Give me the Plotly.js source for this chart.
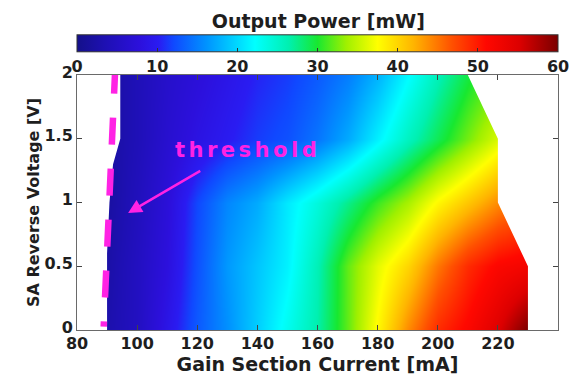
<!DOCTYPE html>
<html>
<head>
<meta charset="utf-8">
<script src="https://cdn.plot.ly/plotly-3.0.1.min.js"></script>
<style>
  html, body { margin: 0; padding: 0; background: #fff; }
  #chart { width: 571px; height: 375px; }
  text.annotation-text { letter-spacing: 3.5px; }
</style>
</head>
<body>
<div id="chart"></div>
<script>
// Gain section current [mA] (grid columns)
const currents = [90, 100, 110, 120, 130, 140, 150, 160, 170, 180, 190, 200, 210, 220, 230];
// SA reverse voltage [V] (grid rows)
const voltages = [0, 0.5, 1, 1.5, 2];
// Output power [mW], one row per voltage
const power_V0   = [3, 5, 9, 13, 16, 19.5, 23, 26.5, 32, 38, 44, 49, 51.5, 55, 60];
const power_V0_5 = [2.5, 5, 8, 12.5, 16.5, 19, 21.5, 26, 32, 36.5, 40, 45, 49, 51.5, 52.5];
const power_V1   = [2, 4.5, 7.5, 12, 15.5, 17.5, 21, 24, 27.5, 31, 34, 38, 41, 44, 46];
const power_V1_5 = [2, 4, 6.5, 8.5, 10, 11.5, 12.5, 14.5, 17.5, 21.5, 25.5, 29, 32.5, 36, 38];
const power_V2   = [2, 4, 6, 7.5, 9, 10.5, 11.5, 13, 15, 18, 22, 26, 29.5, 32, 34];

// measured-region limits (current range covered at each voltage)
const leftEdgeV  = [0, 0.6, 1.0, 1.3, 1.5, 2];
const leftEdgeI  = [90, 90, 90.8, 92, 94.4, 94.4];
const rightEdgeV = [0, 0.5, 1.0, 1.5, 2];
const rightEdgeI = [230, 230, 220, 220, 210];

// threshold line
const thresholdI = [92.74, 88.88];
const thresholdV = [2.065, 0.026];

// axis ticks
const xTicks = [80, 100, 120, 140, 160, 180, 200, 220, 240];
const yTicks = [0, 0.5, 1, 1.5, 2];
const yTickText = ['0', '0.5', '1', '1.5', '2'];
const cbTicks = [0, 10, 20, 30, 40, 50, 60];

const FONT = 'DejaVu Sans';
const TXT = '#1e1e1e';
const MAG = '#ff22e4';

const jet = [
  [0.00, '#14108a'],
  [0.06, '#1e10b4'],
  [0.13, '#2c10dc'],
  [0.17, '#2a1cf2'],
  [0.20, '#1048ff'],
  [0.27, '#0094ff'],
  [0.37, '#00ffff'],
  [0.44, '#00f0b0'],
  [0.50, '#18e830'],
  [0.56, '#a0f000'],
  [0.625, '#ffff00'],
  [0.70, '#ffb400'],
  [0.78, '#ff5000'],
  [0.85, '#ff0800'],
  [0.92, '#dc0000'],
  [1.00, '#7a0000']
];

const zGrid = [power_V0, power_V0_5, power_V1, power_V1_5, power_V2];

const heat = {
  type: 'heatmap',
  x: currents,
  y: voltages,
  z: zGrid,
  zmin: 0, zmax: 60,
  zsmooth: 'best',
  colorscale: jet,
  hoverinfo: 'skip',
  colorbar: {
    orientation: 'h',
    x: 0.5, xanchor: 'center',
    y: 0.977, yanchor: 'bottom',
    len: 1, lenmode: 'fraction',
    thickness: 17, thicknessmode: 'pixels',
    xpad: 0, ypad: 0,
    outlinewidth: 1, outlinecolor: '#333',
    ticks: 'inside', ticklen: 4, tickcolor: '#333', tickwidth: 1,
    tickvals: cbTicks,
    tickfont: {family: FONT, size: 16, color: TXT, weight: 'bold'}
  }
};

const leftMask = {
  type: 'scatter', mode: 'lines', fill: 'toself',
  x: [70, leftEdgeI[0]].concat(leftEdgeI).concat([leftEdgeI[leftEdgeI.length - 1], 70]),
  y: [-0.1, -0.1].concat(leftEdgeV).concat([2.1, 2.1]),
  fillcolor: '#ffffff', line: {width: 0, color: '#ffffff'},
  hoverinfo: 'skip', showlegend: false
};
const rightMask = {
  type: 'scatter', mode: 'lines', fill: 'toself',
  x: [250, rightEdgeI[0]].concat(rightEdgeI).concat([rightEdgeI[rightEdgeI.length - 1], 250]),
  y: [-0.1, -0.1].concat(rightEdgeV).concat([2.1, 2.1]),
  fillcolor: '#ffffff', line: {width: 0, color: '#ffffff'},
  hoverinfo: 'skip', showlegend: false
};

const threshold = {
  type: 'scatter', mode: 'lines',
  x: thresholdI, y: thresholdV,
  line: {color: MAG, width: 6.5, dash: '27px,24px'},
  cliponaxis: false,
  hoverinfo: 'skip', showlegend: false
};

const layout = {
  width: 571, height: 375,
  margin: {l: 77, r: 13, t: 75, b: 45, autoexpand: false},
  paper_bgcolor: '#ffffff', plot_bgcolor: '#ffffff',
  font: {family: FONT, size: 16, color: TXT, weight: 'bold'},
  showlegend: false,
  xaxis: {
    range: [80, 240], tickvals: xTicks, ticktext: xTicks.map(String),
    showgrid: false, zeroline: false,
    showline: true, mirror: 'ticks', linecolor: '#6a6a6a', linewidth: 1,
    ticks: 'inside', ticklen: 5, tickcolor: '#444', ticklabelstandoff: -1,
    tickfont: {family: FONT, size: 16, color: TXT, weight: 'bold'},
    title: {text: 'Gain Section Current [mA]', standoff: 0,
            font: {family: FONT, size: 19, color: TXT, weight: 'bold'}}
  },
  yaxis: {
    range: [0, 2], tickvals: yTicks, ticktext: yTickText,
    showgrid: false, zeroline: false,
    showline: true, mirror: 'ticks', linecolor: '#6a6a6a', linewidth: 1,
    ticks: 'inside', ticklen: 5, tickcolor: '#444', ticklabelshift: -3,
    tickfont: {family: FONT, size: 16, color: TXT, weight: 'bold'},
    title: {text: 'SA Reverse Voltage [V]', standoff: 0,
            font: {family: FONT, size: 16, color: TXT, weight: 'bold'}}
  },
  annotations: [
    {
      x: 0.503, y: 1.212, xref: 'paper', yref: 'paper',
      xanchor: 'center', yanchor: 'middle',
      text: 'Output Power [mW]', showarrow: false,
      font: {family: FONT, size: 19, color: TXT, weight: 'bold'}
    },
    {
      x: 136.6, y: 1.41, xref: 'x', yref: 'y',
      text: 'threshold', showarrow: false,
      font: {family: FONT, size: 21, color: MAG, weight: 'bold'}
    },
    {
      x: 97, y: 0.918, xref: 'x', yref: 'y',
      ax: 121.5, ay: 1.255, axref: 'x', ayref: 'y',
      text: '', showarrow: true,
      arrowhead: 2, arrowsize: 1.1, arrowwidth: 2.5, arrowcolor: MAG
    }
  ]
};

Plotly.newPlot('chart', [heat, leftMask, rightMask, threshold], layout, {displayModeBar: false, staticPlot: true}).then(function () {
  // keep the letter spacing only on the magenta label
  document.querySelectorAll('text.annotation-text').forEach(function (t) {
    if (t.textContent !== 'threshold') t.style.letterSpacing = '0px';
  });
});
</script>
</body>
</html>
